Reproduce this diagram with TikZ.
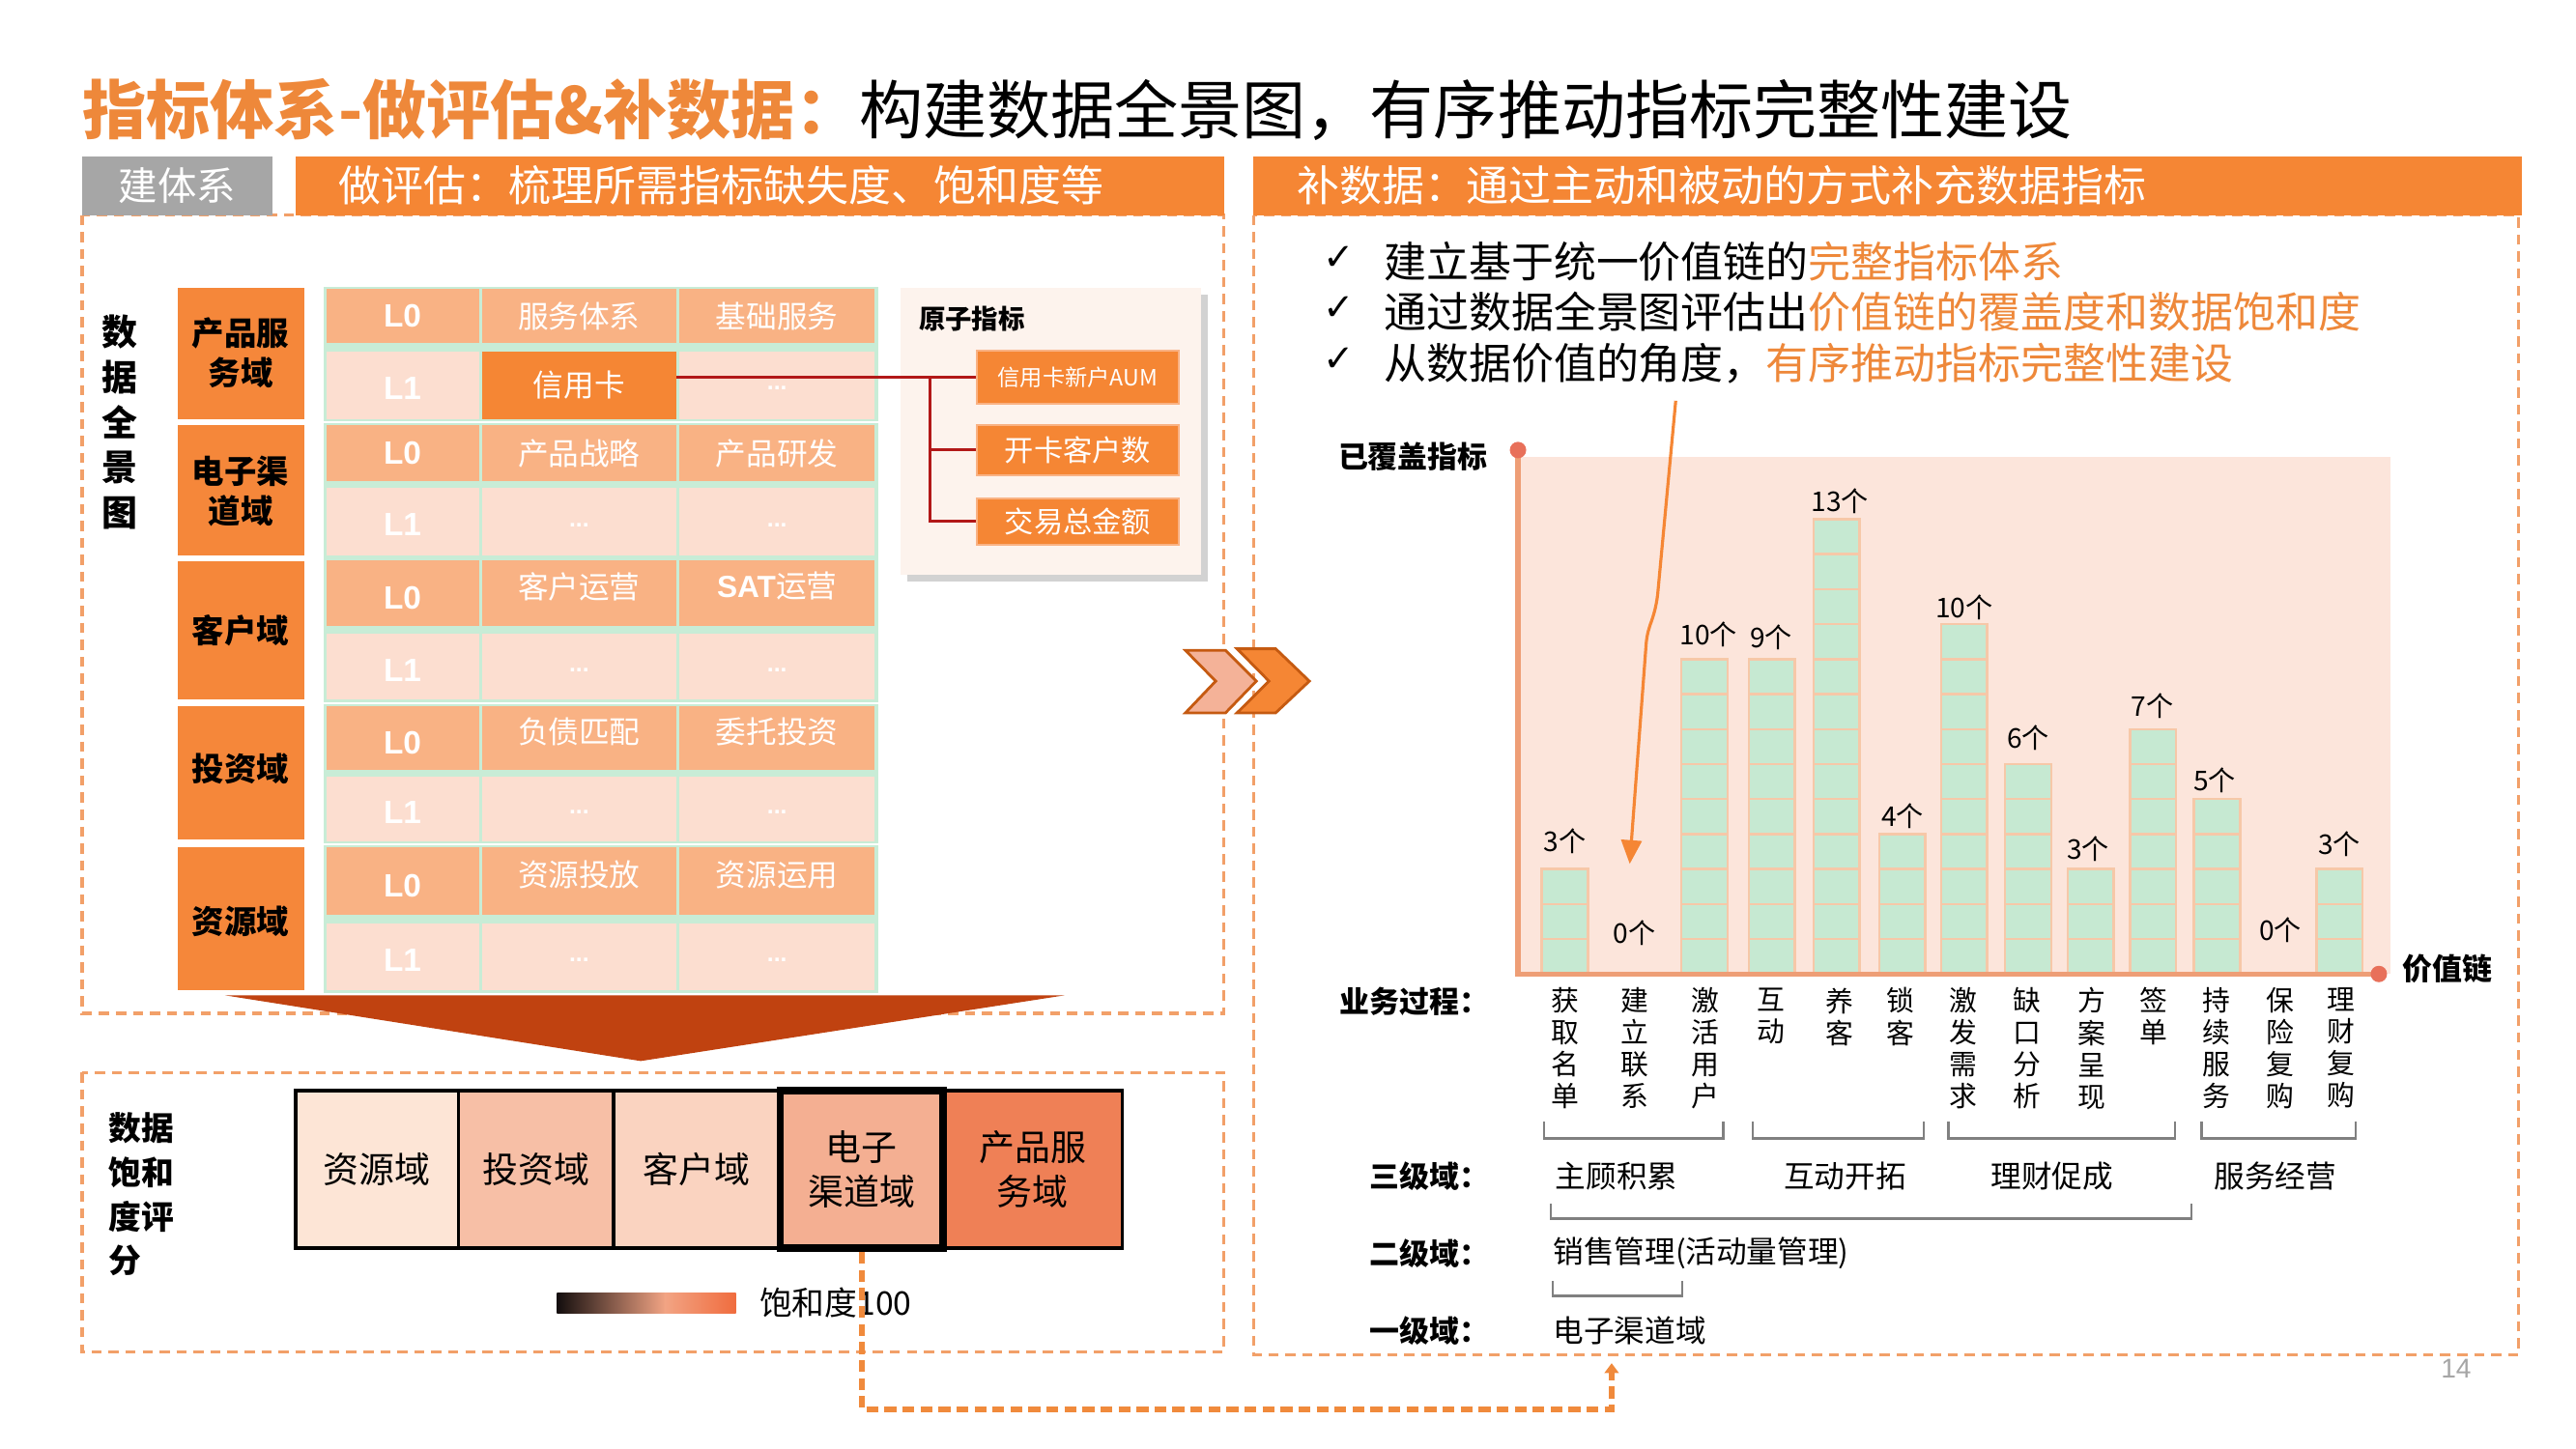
\documentclass[tikz,border=0pt]{standalone}
\usepackage{fontspec}
\setmainfont{Noto Sans CJK SC}
\newfontfamily\lsans{Liberation Sans}
\newfontfamily\lserif{Liberation Serif}
\newfontfamily\dejavu{DejaVu Sans}
\usetikzlibrary{arrows.meta,shadows}
\definecolor{titleor}{RGB}{238,136,58}
\definecolor{heador}{RGB}{245,134,52}
\definecolor{headgray}{RGB}{166,166,166}
\definecolor{panelor}{RGB}{242,160,105}
\definecolor{domor}{RGB}{245,135,58}
\definecolor{cellA}{RGB}{249,178,132}
\definecolor{cellB}{RGB}{252,222,208}
\definecolor{mint}{RGB}{200,236,214}
\definecolor{atombg}{RGB}{253,243,237}
\definecolor{redln}{RGB}{178,24,24}
\definecolor{trired}{RGB}{192,66,16}
\definecolor{chevA}{RGB}{244,178,152}
\definecolor{chevln}{RGB}{197,90,17}
\definecolor{satA}{RGB}{253,229,214}
\definecolor{satB}{RGB}{247,191,166}
\definecolor{satC}{RGB}{250,211,192}
\definecolor{satD}{RGB}{244,175,146}
\definecolor{satE}{RGB}{239,128,86}
\definecolor{chartbg}{RGB}{252,229,219}
\definecolor{axisc}{RGB}{238,158,118}
\definecolor{dotc}{RGB}{232,112,90}
\definecolor{barmint}{RGB}{198,233,210}
\definecolor{barln}{RGB}{246,200,168}
\definecolor{brkgray}{RGB}{128,128,128}
\definecolor{connor}{RGB}{240,138,60}
\definecolor{grad1}{RGB}{20,14,14}
\definecolor{grad2}{RGB}{242,164,132}
\definecolor{grad3}{RGB}{240,108,62}
\newcommand\fsz[2]{\fontsize{#1}{#2}\selectfont}
\tikzset{
  panel/.style={draw=panelor, line width=0.9pt, dash pattern=on 3pt off 2pt},
  celltxt/.style={text=white, inner sep=0, font=\fsz{9pt}{11pt}},
  ltxt/.style={text=white, inner sep=0, font=\lsans\bfseries\fsz{9.5pt}{11pt}},
  dottxt/.style={text=white, inner sep=0, font=\lsans\bfseries\fsz{7pt}{8pt}},
  domtxt/.style={inner sep=0, align=center, font=\bfseries\fsz{9.5pt}{11.6pt}},
  atombox/.style={fill=heador, draw=cellA, line width=0.6pt, text=white, minimum width=2.09cm, inner sep=0},
  satbox/.style={draw=black, line width=1pt, minimum height=1.632cm, inner sep=0, align=center, font=\fsz{10.5pt}{13pt}},
  chev/.style={draw=chevln, line width=0.8pt, line join=miter},
  segbox/.style={fill=barmint, draw=barln, line width=0.7pt},
  vallab/.style={inner sep=0, font=\fsz{8pt}{9pt}},
  proclab/.style={inner sep=0, anchor=north, align=center, font=\fsz{8.2pt}{9.4pt}},
  lvl/.style={inner sep=0, anchor=east, font=\bfseries\fsz{8.8pt}{10pt}},
  lvltxt/.style={inner sep=0, font=\fsz{9pt}{10pt}},
  brk/.style={draw=brkgray, line width=0.7pt},
  redconn/.style={draw=redln, line width=0.8pt},
  orconn/.style={draw=connor, line width=1.6pt, dash pattern=on 3.5pt off 1.8pt},
  curvarrow/.style={draw=heador, line width=0.9pt, -{Triangle[length=7pt,width=6pt]}},
}
\begin{document}
\begin{tikzpicture}[x=0.017cm,y=-0.017cm]
\fill[white] (0,0) rectangle (1568,882);
\useasboundingbox (0,0) rectangle (1568,882);

% title
\node[anchor=west, inner sep=0] (title) at (50,67)
  {\fsz{18.8pt}{22pt}\textcolor{titleor}{\bfseries 指标体系-做评估\&补数据：}构建数据全景图，有序推动指标完整性建设};

% dashed panels
\draw[panel] (50,131) rectangle (745,617);
\draw[panel] (763,131) rectangle (1533,825);
\draw[panel] (50,653) rectangle (745,823);

% headers
\fill[headgray] (50,95) rectangle (166,131);
\node[text=white, inner sep=0, font=\fsz{11.5pt}{13pt}] (hjt) at (108,113) {建体系};
\fill[heador] (180,95) rectangle (745,131);
\node[text=white, anchor=west, inner sep=0, font=\fsz{12.5pt}{14pt}] (hpg) at (206,113) {做评估：梳理所需指标缺失度、饱和度等};
\fill[heador] (763,95) rectangle (1535,131);
\node[text=white, anchor=west, inner sep=0, font=\fsz{12.5pt}{14pt}] (hbs) at (789,113) {补数据：通过主动和被动的方式补充数据指标};

% left vertical label
\node[inner sep=0, align=center, font=\bfseries\fsz{10.5pt}{13.3pt}] (sjqjt) at (73,257) {数\\据\\全\\景\\图};

% domain boxes
\fill[domor] (108,175) rectangle (185,255);
\fill[domor] (108,259) rectangle (185,338);
\fill[domor] (108,342) rectangle (185,426);
\fill[domor] (108,430) rectangle (185,511);
\fill[domor] (108,516) rectangle (185,603);
\node[domtxt] (d1) at (146.5,215) {产品服\\务域};
\node[domtxt] (d2) at (146.5,299) {电子渠\\道域};
\node[domtxt] (d3) at (146.5,384) {客户域};
\node[domtxt] (d4) at (146.5,468) {投资域};
\node[domtxt] (d5) at (146.5,561) {资源域};

% table groups
\foreach \t/\m/\n/\b/\ca/\cb/\sh in {176/209/214/255/服务体系/基础服务/0,
  259/293/297/338/产品战略/产品研发/0,
  341/381/386/426/客户运营/{\lsans\bfseries SAT}运营/4,
  430/469/473/512/负债匹配/委托投资/4,
  516/557/562/603/资源投放/资源运用/4}{
  \fill[mint] (197,\t-1.5) rectangle (534.5,\b+1.5);
  \fill[cellA] (199,\t) rectangle (291.5,\m);
  \fill[cellA] (293.5,\t) rectangle (411.5,\m);
  \fill[cellA] (413.5,\t) rectangle (532.5,\m);
  \fill[cellB] (199,\n) rectangle (291.5,\b);
  \fill[cellB] (293.5,\n) rectangle (411.5,\b);
  \fill[cellB] (413.5,\n) rectangle (532.5,\b);
  \node[ltxt] at (245,{(\t+\m)/2+\sh*0.75}) {L0};
  \node[celltxt] at (352.5,{(\t+\m)/2-\sh}) {\ca};
  \node[celltxt] at (473,{(\t+\m)/2-\sh}) {\cb};
  \node[ltxt] at (245,{(\n+\b)/2+2}) {L1};
  \ifnum\t>176
    \node[dottxt] at (352.5,{(\n+\b)/2+2}) {...};
  \fi
  \node[dottxt] at (473,{(\n+\b)/2+2}) {...};
}
% credit card cell
\node[fill=heador, minimum width=2.006cm, minimum height=0.697cm, inner sep=0, text=white, font=\fsz{9pt}{11pt}] (xyk) at (352.5,234.5) {信用卡};

% atomic indicator panel
\path[fill=atombg, drop shadow={opacity=0.35, shadow xshift=2pt, shadow yshift=-2pt}] (548,175) rectangle (731,350);
\node[anchor=west, inner sep=0, font=\bfseries\fsz{7.8pt}{9pt}] (yzzb) at (559,194) {原子指标};
\node[atombox, minimum height=0.55cm, font=\fsz{6.6pt}{8pt}] (ab1) at (656,229.5) {信用卡新户AUM};
\node[atombox, minimum height=0.52cm, font=\fsz{8.6pt}{10pt}] (ab2) at (656,274) {开卡客户数};
\node[atombox, minimum height=0.48cm, font=\fsz{8.6pt}{10pt}] (ab3) at (656,317.5) {交易总金额};
\coordinate (jn) at (566,229.5);
\draw[redconn] (xyk.east |- ab1.west) -- (ab1.west);
\draw[redconn] (jn) |- (ab3.west);
\draw[redconn] (jn |- ab2.west) -- (ab2.west);

% big triangle
\fill[trired] (137,606) -- (648,606) -- (390,646) -- cycle;

% chevrons
\filldraw[chev, fill=chevA] (721.6,396) -- (746,396) -- (764.7,414.7) -- (746,434) -- (721.6,434) -- (740,414.7) -- cycle;
\filldraw[chev, fill=heador] (753,395) -- (776.5,395) -- (797,414.7) -- (776.5,434) -- (753,434) -- (772.4,414.7) -- cycle;

% saturation section
\node[inner sep=0, anchor=north west, align=left, font=\bfseries\fsz{9.6pt}{13pt}] (sjbh) at (66,677) {数据\\饱和\\度评\\分};
\node[satbox, fill=satA, minimum width=1.683cm] (sA) at (229.5,712) {资源域};
\node[satbox, fill=satB, minimum width=1.6065cm] (sB) at (326.25,712) {投资域};
\node[satbox, fill=satC, minimum width=1.7255cm] (sC) at (424.25,712) {客户域};
\node[satbox, fill=satE, minimum width=1.853cm] (sE) at (628.5,712) {产品服\\务域};
\node[satbox, fill=satD, minimum width=1.683cm, line width=2.2pt] (sD) at (524.5,712) {电子\\渠道域};
\shade[left color=grad1, right color=grad2] (339,787) rectangle (405,799.5);
\shade[left color=grad2, right color=grad3] (404.5,787) rectangle (448,799.5);
\node[anchor=west, inner sep=0, font=\fsz{9.6pt}{11pt}] (bhd) at (462,793) {饱和度100};

% right panel checks
\foreach \yy/\tx [count=\i] in {159/{建立基于统一价值链的\textcolor{titleor}{完整指标体系}},
  190/{通过数据全景图评估出\textcolor{titleor}{价值链的覆盖度和数据饱和度}},
  221/{从数据价值的角度，\textcolor{titleor}{有序推动指标完整性建设}}}{
  \node[inner sep=0, font=\dejavu\fsz{11pt}{12pt}] (ck\i) at (815,\yy-2) {✓};
  \node[anchor=west, inner sep=0, font=\fsz{12.5pt}{14pt}] (ct\i) at (842,\yy) {\tx};
}

% chart
\fill[chartbg] (924,278) rectangle (1455,593);
\foreach \cx/\n [count=\i] in {952.5/3,993/0,1037.5/9,1078.5/9,1118/13,1158/4,1195.5/10,1234.5/6,1272.5/3,1310.5/7,1349.5/5,1388/0,1424/3}{
  \ifnum\n>0
    \foreach \k in {1,...,\n}{
      \filldraw[segbox] ({\cx-14},{593-\k*21.3}) rectangle ({\cx+14},{593-(\k-1)*21.3});
    }
  \fi
}
\draw[axisc, line width=1.5pt] (924,274) -- (924,593) -- (1448,593);
\fill[dotc] (924,274) circle (5);
\fill[dotc] (1448,593) circle (5);
\node[anchor=east, inner sep=0, font=\bfseries\fsz{8.8pt}{10pt}] (yfg) at (906,278) {已覆盖指标};
\node[anchor=west, inner sep=0, font=\bfseries\fsz{8.8pt}{10pt}] (jzl) at (1462,590) {价值链};
\foreach \cx/\yy/\lab in {952.5/512/3个,995/568/0个,1040/386/10个,1078/388/9个,1120/305/13个,1158/497/4个,1195.5/370/10个,1234.5/449/6个,1271/517/3个,1310/430/7个,1348/475/5个,1388/566/0个,1424/514/3个}{
  \node[vallab] at (\cx,\yy) {\lab};
}

% process labels
\node[lvl] (ywgc) at (907,610) {业务过程：};
\foreach \cx/\s in {953/{获\\取\\名\\单},995/{建\\立\\联\\系},1038/{激\\活\\用\\户},1078/{互\\动},1120/{养\\客},1157/{锁\\客},1195/{激\\发\\需\\求},1234/{缺\\口\\分\\析},1273/{方\\案\\呈\\现},1311/{签\\单},1349/{持\\续\\服\\务},1388/{保\\险\\复\\购},1425/{理\\财\\复\\购}}{
  \node[proclab] at (\cx,601) {\s};
}
\draw[brk] (940,683) -- (940,693) -- (1049,693) -- (1049,683);
\draw[brk] (1067,683) -- (1067,693) -- (1171,693) -- (1171,683);
\draw[brk] (1186,683) -- (1186,693) -- (1324,693) -- (1324,683);
\draw[brk] (1340,683) -- (1340,693) -- (1434,693) -- (1434,683);

\node[lvl] (sjy) at (907,716) {三级域：};
\node[lvltxt] (zg) at (984,716) {主顾积累};
\node[lvltxt] (hd) at (1123,716) {互动开拓};
\node[lvltxt] (lc) at (1249,716) {理财促成};
\node[lvltxt] (fw) at (1385,716) {服务经营};
\draw[brk] (944,733) -- (944,742) -- (1334,742) -- (1334,733);

\node[lvl] (ejy) at (907,763) {二级域：};
\node[lvltxt, anchor=west] (xsgl) at (945,763) {销售管理(活动量管理)};
\draw[brk] (945,780) -- (945,789) -- (1024,789) -- (1024,780);

\node[lvl] (yjy) at (907,810) {一级域：};
\node[lvltxt, anchor=west] (dzqd) at (945,810) {电子渠道域};

% page number
\node[inner sep=0, text=headgray, font=\lsans\fsz{8pt}{9pt}] (pg) at (1495,833) {14};

% curved arrow
\coordinate (arS) at (1020,244);
\coordinate (arE) at (992,526);
\draw[curvarrow] (arS) -- (1009,362) .. controls (1007,378) and (1003,380) .. (1002,392) -- (arE);

% dashed connector from saturation box to level-1 domain
\coordinate (tipE) at (981,830);
\draw[orconn] (sD.south) -- (sD.south |- 0,858) -| (tipE);
\fill[connor] (tipE) ++(-4.5,6) -- (tipE) -- ++(4.5,6) -- cycle;
\end{tikzpicture}
\end{document}
